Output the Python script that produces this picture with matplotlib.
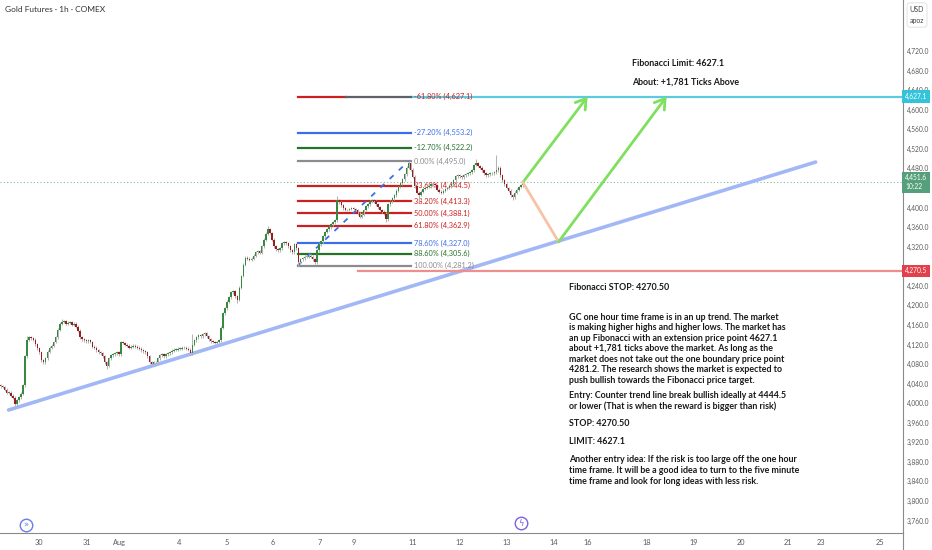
"""Gold futures 1h chart with Fibonacci levels, trend line and trade notes."""

import matplotlib
matplotlib.use("Agg")
import matplotlib.pyplot as plt
import matplotlib.transforms as mtrans
from matplotlib.ticker import FixedLocator, FuncFormatter
import numpy as np

# ---- data --------------------------------------------------------------------
first_open = 4037.0
closes = [
    4035, 4033, 4027, 4021, 4021, 4015, 4011, 3998, 4006, 4012,
    4019, 4037, 4096, 4130, 4135, 4133, 4130, 4120, 4112, 4104,
    4088, 4084, 4092, 4105, 4113, 4117, 4125, 4135, 4150, 4162,
    4166, 4168, 4162, 4164, 4166, 4160, 4162, 4156, 4148, 4135,
    4131, 4129, 4127, 4129, 4125, 4115, 4113, 4108, 4104, 4102,
    4096, 4084, 4076, 4092, 4098, 4100, 4102, 4104, 4100, 4125,
    4123, 4119, 4117, 4113, 4115, 4117, 4115, 4113, 4111, 4108,
    4106, 4104, 4096, 4084, 4080, 4084, 4084, 4092, 4098, 4100,
    4096, 4100, 4102, 4104, 4107, 4109, 4109, 4111, 4111, 4113,
    4113, 4111, 4109, 4102, 4119, 4129, 4135, 4139, 4137, 4141,
    4143, 4137, 4131, 4127, 4125, 4123, 4125, 4129, 4154, 4184,
    4194, 4207, 4217, 4227, 4229, 4219, 4211, 4236, 4260, 4283,
    4297, 4295, 4293, 4295, 4301, 4309, 4311, 4307, 4321, 4334,
    4346, 4356, 4348, 4334, 4321, 4315, 4313, 4317, 4327, 4329,
    4327, 4321, 4313, 4309, 4325, 4317, 4288, 4294, 4296, 4299,
    4299, 4301, 4299, 4294, 4288, 4313, 4325, 4331, 4341, 4350,
    4356, 4360, 4366, 4370, 4374, 4415, 4411, 4405, 4399, 4395,
    4395, 4397, 4399, 4397, 4395, 4387, 4381, 4385, 4395, 4403,
    4407, 4413, 4415, 4413, 4407, 4401, 4395, 4391, 4387, 4376,
    4407, 4413, 4419, 4425, 4434, 4442, 4450, 4458, 4468, 4481,
    4491, 4477, 4463, 4444, 4430, 4426, 4432, 4438, 4440, 4442,
    4444, 4448, 4448, 4446, 4436, 4432, 4430, 4434, 4438, 4440,
    4444, 4448, 4456, 4464, 4466, 4464, 4462, 4466, 4468, 4470,
    4472, 4476, 4487, 4491, 4485, 4481, 4476, 4470, 4466, 4468,
    4470, 4470, 4472, 4476, 4481, 4466, 4456, 4448, 4440, 4434,
    4425, 4421, 4430, 4436, 4442, 4446, 4451.6,
]
wick = 3.0
spike_high = {13: 4137, 30: 4172, 94: 4141, 131: 4362, 165: 4423,
              200: 4495.0, 233: 4500, 243: 4507}
spike_low = {7: 3992, 52: 4070, 116: 4205, 146: 4281.2, 189: 4370,
             205: 4413, 251: 4416}

fib_pct = ["-61.80%", "-27.20%", "-12.70%", "0.00%", "23.60%", "38.20%",
           "50.00%", "61.80%", "78.60%", "88.60%", "100.00%"]
fib_price = [4627.1, 4553.2, 4522.2, 4495.0, 4444.5, 4413.3,
             4388.1, 4362.9, 4327.0, 4305.6, 4281.2]

last_price = 4451.6
limit_price = 4627.1
stop_price = 4270.5
pullback_price = 4330.0
trend_start = 3986.0
trend_end = 4493.0

# 4,440 and 4,280 sit under the price tags in the reference
price_ticks = [v for v in range(3760, 4721, 40) if v not in (4440, 4280)]
date_labels = ["30", "31", "Aug", "4", "5", "6", "7", "9", "11", "12", "13",
               "14", "16", "18", "19", "20", "21", "23", "25"]

note_lines = [
    "GC one hour time frame is in an up trend. The market",
    "is making higher highs and higher lows. The market has",
    "an up Fibonacci with an extension price point 4627.1",
    "about +1,781 ticks above the market. As long as the",
    "market does not take out the one boundary price point",
    "4281.2. The research shows the market is expected to",
    "push bullish towards the Fibonacci price target.",
    "Entry: Counter trend line break bullish ideally at 4444.5",
    "or lower (That is when the reward is bigger than risk)",
    "STOP: 4270.50",
    "LIMIT: 4627.1",
    "Another entry idea: If the risk is too large off the one hour",
    "time frame. It will be a good idea to turn to the five minute",
    "time frame and look for long ideas with less risk.",
]

# ---- layout helpers (pixels of the 932x550 picture) --------------------------
W, H = 932, 550
PXB = 2.04          # pixels per bar
AX_RIGHT = 903
AX_BOTTOM = 533


def fx(px):
    return px / W


def fy(py):
    return 1 - py / H


def bar(px):
    return px / PXB


RED = "#cc1f1f"
BLUE = "#3b6fe8"
GREEN = "#27722b"
GREY = "#8c8c8c"
fib_colors = [RED, BLUE, GREEN, GREY, RED, RED, RED, RED, BLUE, GREEN, GREY]
text_font = ["Lato", "DejaVu Sans"]

fig = plt.figure(figsize=(W / 100, H / 100), dpi=100)
fig.patch.set_facecolor("white")
ax = fig.add_axes([0, fy(AX_BOTTOM), fx(AX_RIGHT), AX_BOTTOM / H])
ax.set_xlim(-0.3, bar(AX_RIGHT) - 0.3)
ax.set_ylim(limit_price - (AX_BOTTOM - 96.5) * 2.045, limit_price + 96.5 * 2.045)

# ---- candles -----------------------------------------------------------------
c = np.array(closes, dtype=float)
o = np.concatenate([[first_open], c[:-1]])
x = np.arange(len(c))
hi = np.maximum(o, c) + wick
lo = np.minimum(o, c) - wick
for i, v in spike_high.items():
    hi[i] = v
for i, v in spike_low.items():
    lo[i] = v
up = c >= o
body_lo = np.minimum(o, c)
body_h = np.maximum(np.abs(c - o), 0.8)
ax.vlines(x, lo, hi, color="#b4b4b4", lw=0.75, zorder=4)
ax.bar(x, body_h, bottom=body_lo, width=0.72,
       color=np.where(up, "#37893f", "#9c1b20"), linewidth=0, zorder=5)

# ---- trend line, price lines -------------------------------------------------
ax.plot([bar(8), bar(815)], [trend_start, trend_end], color="#a2b7f6", lw=2.6,
        solid_capstyle="round", zorder=2)
ax.axhline(last_price, color="#6aa884", lw=0.8, ls=(0, (1, 2)), alpha=0.8, zorder=1)
ax.plot([bar(357), bar(AX_RIGHT)], [stop_price] * 2, color="#f08d8d", lw=1.6, zorder=2)
ax.plot([bar(410), bar(AX_RIGHT)], [limit_price] * 2, color="#5ccbe0", lw=1.6, zorder=2)

# ---- fibonacci ---------------------------------------------------------------
fx0, fx1, fsplit = bar(297), bar(410), bar(345)
for pct, p, col in zip(fib_pct, fib_price, fib_colors):
    if pct == "-61.80%":
        ax.plot([fx0, fsplit], [p, p], color=col, lw=1.6, zorder=3)
        ax.plot([fsplit, fx1], [p, p], color="#5e6168", lw=1.6, zorder=3)
    else:
        ax.plot([fx0, fx1], [p, p], color=col, lw=1.6, zorder=3)
    ax.text(bar(413), p, f"{pct} ({p:,.1f})", color=col, fontsize=5.3,
            va="center", ha="left", family=text_font, zorder=3)
ax.plot([fx0, bar(408)], [fib_price[-1], fib_price[3]], color="#3b6fe8", lw=1.3,
        ls=(0, (3, 4)), zorder=3)

# ---- projection arrows -------------------------------------------------------
arrow = dict(arrowstyle="->,head_length=0.7,head_width=0.45", color="#7fe05e",
             lw=2, shrinkA=0, shrinkB=0)
ax.annotate("", xy=(bar(587), limit_price), xytext=(len(c) - 1, last_price),
            arrowprops=arrow, zorder=6)
ax.plot([len(c) - 1, bar(558)], [last_price, pullback_price], color="#f8c3a5",
        lw=2, zorder=6)
ax.annotate("", xy=(bar(666), limit_price), xytext=(bar(558), pullback_price),
            arrowprops=arrow, zorder=6)

# ---- axes styling ------------------------------------------------------------
for s in ("top", "left"):
    ax.spines[s].set_visible(False)
for s in ("right", "bottom"):
    ax.spines[s].set_color("#8a8a8a")
    ax.spines[s].set_linewidth(0.8)
ax.yaxis.tick_right()
ax.yaxis.set_major_locator(FixedLocator(price_ticks))
ax.yaxis.set_major_formatter(FuncFormatter(lambda v, _: f"{v:,.1f}"))
ax.tick_params(axis="y", length=0, pad=3, labelsize=4.8, labelcolor="#5a5a5a")
tick_px = [38, 86, 119, 178, 226, 272, 319, 353, 412, 459, 506, 553, 587,
           646, 693, 740, 787, 820, 879]
ax.set_xticks([bar(p) for p in tick_px])
ax.set_xticklabels(date_labels)
ax.tick_params(axis="x", length=0, pad=4, labelsize=5.3, labelcolor="#5a5a5a")
for t in ax.get_xticklabels() + ax.get_yticklabels():
    t.set_family(text_font)
fig.add_artist(plt.Line2D([fx(AX_RIGHT)] * 2, [0, fy(AX_BOTTOM)],
                          color="#8a8a8a", lw=0.8))

# price-axis tags
tag = mtrans.blended_transform_factory(fig.transFigure, ax.transData)
for txt, p, col in [(f"{limit_price:,.1f}", limit_price, "#33c3da"),
                    (f"{last_price:,.1f}\n10:22", last_price, "#55a07a"),
                    (f"{stop_price:,.1f}", stop_price, "#e2404a")]:
    fig.text(fx(905), p, txt, transform=tag, color="white", fontsize=4.8,
             va="center", ha="left", family=text_font, linespacing=1.3,
             bbox=dict(boxstyle="square,pad=0.4", fc=col, ec="none"))
fig.text(fx(917), fy(15), "USD\napoz", ha="center", va="center", fontsize=5,
         color="#444", family=text_font, linespacing=1.8,
         bbox=dict(boxstyle="round,pad=0.4", fc="white", ec="#dddddd", lw=0.6))

# ---- text --------------------------------------------------------------------
fig.text(fx(5), fy(10), "Gold Futures · 1h · COMEX", fontsize=6, color="#333",
         va="center", family=text_font)
note = dict(fontsize=6.4, color="#1a1a1a", va="center", ha="left",
            family=text_font, weight="bold")
fig.text(fx(632), fy(63), "Fibonacci Limit: 4627.1", **note)
fig.text(fx(632), fy(82), "About: +1,781 Ticks Above", **note)
fig.text(fx(569), fy(287), "Fibonacci STOP: 4270.50", **note)
line_py = [317, 327.6, 338.2, 348.8, 359.4, 370, 380.6, 396, 406.6,
           423, 441, 460, 470.6, 481.2]
for s, py in zip(note_lines, line_py):
    fig.text(fx(569), fy(py), s, **note)

# small chart icons on the time axis
for px, py, sym, col in [(26, 525, "»", "#6b7cf0"), (521, 523, "ϟ", "#7b62e0")]:
    ax.plot([fx(px)], [fy(py)], transform=fig.transFigure, marker="o", ms=9,
            mfc="white", mec=col, mew=1, clip_on=False, zorder=7)
    fig.text(fx(px), fy(py), sym, color=col, fontsize=6, ha="center", va="center")

fig.savefig("out.png", dpi=100, facecolor="white")
